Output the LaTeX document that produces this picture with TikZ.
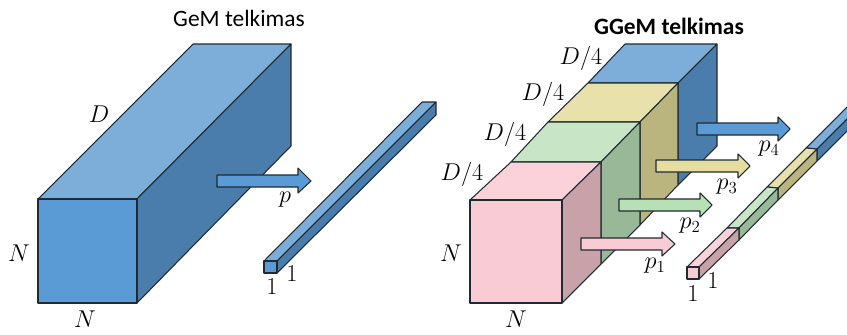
\documentclass[tikz,border=0pt]{standalone}
\usepackage{fontspec}
\setmainfont{Carlito}
\definecolor{bluefront}{HTML}{5B9BD5}
\definecolor{bluetop}{HTML}{7DAEDA}
\definecolor{blueside}{HTML}{4A7DAB}
\definecolor{pinkfront}{HTML}{F9CBD4}
\definecolor{pinktop}{HTML}{FBD2D9}
\definecolor{pinkside}{HTML}{C9A1A8}
\definecolor{greentop}{HTML}{C8E6C5}
\definecolor{greenside}{HTML}{98B898}
\definecolor{greenarrow}{HTML}{B7E1B5}
\definecolor{yellowtop}{HTML}{E8E1AC}
\definecolor{yellowside}{HTML}{BAB47F}
\definecolor{yellowarrow}{HTML}{E6DE9E}
\definecolor{edgeline}{HTML}{1F2A33}
\begin{document}
\begin{tikzpicture}[
  x=0.03cm, y=-0.03cm,
  face/.style={draw=edgeline, line width=0.9pt, line join=round},
  label/.style={inner sep=0pt, font=\fontsize{21}{24}\selectfont, text=black},
  title/.style={inner sep=0pt, font=\fontsize{20}{24}\selectfont, text=black}
]
  \clip (0,0) rectangle (847,334);

  % GeM block
  \draw[face, fill=bluetop] (38,199) -- (193,44) -- (291,44) -- (137,199) -- cycle;
  \draw[face, fill=blueside] (137,199) -- (291,44) -- (291,146) -- (137,303) -- cycle;
  \draw[face, fill=bluefront] (38,199) rectangle (137,303);

  % GeM bar
  \draw[face, fill=bluetop] (264,261) -- (422,102) -- (436,102) -- (277,261) -- cycle;
  \draw[face, fill=blueside] (277,261) -- (436,102) -- (436,115) -- (277,273) -- cycle;
  \draw[face, fill=bluefront] (264,261) rectangle (277,273);

  \draw[face, fill=bluefront] (217,175) -- ++(81,0) -- ++(0,-7) -- (311,181) -- (298,193) -- ++(0,-6) -- ++(-81,0) -- cycle;

  % GGeM block, back to front
  \draw[face, fill=bluetop] (588,83) -- (625,44) -- (717,44) -- (678,83) -- cycle;
  \draw[face, fill=blueside] (678,83) -- (717,44) -- (717,146) -- (678,185) -- cycle;
  \draw[face, fill=yellowtop] (548,122) -- (588,83) -- (678,83) -- (640,122) -- cycle;
  \draw[face, fill=yellowside] (640,122) -- (678,83) -- (678,185) -- (640,225) -- cycle;
  \draw[face, fill=greentop] (511,162) -- (548,122) -- (640,122) -- (601,162) -- cycle;
  \draw[face, fill=greenside] (601,162) -- (640,122) -- (640,225) -- (601,264) -- cycle;
  \draw[face, fill=pinktop] (470,200) -- (511,162) -- (601,162) -- (562,200) -- cycle;
  \draw[face, fill=pinkside] (562,200) -- (601,162) -- (601,264) -- (562,303) -- cycle;
  \draw[face, fill=pinkfront] (470,200) rectangle (562,303);

  % GGeM bar
  \draw[face, fill=bluetop] (806,148) -- (856,98) -- (868,98) -- (817,149) -- cycle;
  \draw[face, fill=blueside] (817,149) -- (868,98) -- (868,110) -- (817,161) -- cycle;
  \draw[face, fill=yellowtop] (767,187) -- (806,148) -- (817,149) -- (778,188) -- cycle;
  \draw[face, fill=yellowside] (778,188) -- (817,149) -- (817,161) -- (778,200) -- cycle;
  \draw[face, fill=greentop] (727,228) -- (767,187) -- (778,188) -- (739,228) -- cycle;
  \draw[face, fill=greenside] (739,228) -- (778,188) -- (778,200) -- (739,240) -- cycle;
  \draw[face, fill=pinktop] (687,267) -- (727,228) -- (739,228) -- (699,267) -- cycle;
  \draw[face, fill=pinkside] (699,267) -- (739,228) -- (739,240) -- (699,279) -- cycle;
  \draw[face, fill=pinkfront] (687,267) rectangle (699,279);

  % p arrows
  \draw[face, fill=bluefront] (697,123) -- ++(81,0) -- ++(0,-6) -- (790,129) -- (778,141) -- ++(0,-6) -- ++(-81,0) -- cycle;
  \draw[face, fill=yellowarrow] (656,160) -- ++(82,0) -- ++(0,-6) -- (750,166) -- (738,178) -- ++(0,-6) -- ++(-82,0) -- cycle;
  \draw[face, fill=greenarrow] (619,199) -- ++(81,0) -- ++(0,-6) -- (712,205) -- (700,217) -- ++(0,-6) -- ++(-81,0) -- cycle;
  \draw[face, fill=pinkfront] (581,238) -- ++(81,0) -- ++(0,-6) -- (675,244) -- (662,256) -- ++(0,-6) -- ++(-81,0) -- cycle;

  \node[title] (gemtitle) at (239,18) {GeM telkimas};
  \node[title, font=\fontsize{20}{24}\selectfont\bfseries] (ggemtitle) at (669,26) {GGeM telkimas};

  \node[label] (gemD) at (99,114) {$D$};
  \node[label] (gemNa) at (19,253) {$N$};
  \node[label] (gemNb) at (85,319) {$N$};
  \node[label] (gemp) at (285,200) {$p$};
  \node[label] (gemone) at (272,287) {$1$};
  \node[label] (gemtwo) at (292,274) {$1$};

  \node[label] (quarta) at (462,174) {$D/4$};
  \node[label] (quartb) at (505,134) {$D/4$};
  \node[label] (quartc) at (543,94) {$D/4$};
  \node[label] (quartd) at (581,58) {$D/4$};
  \node[label] (ggemNa) at (451,253) {$N$};
  \node[label] (ggemNb) at (516,319) {$N$};
  \node[label] (pa) at (655,266) {$p_1$};
  \node[label] (pb) at (690,226) {$p_2$};
  \node[label] (pc) at (727,187) {$p_3$};
  \node[label] (pd) at (769,149) {$p_4$};
  \node[label] (ggemone) at (693,294) {$1$};
  \node[label] (ggemtwo) at (713,281) {$1$};
\end{tikzpicture}
\end{document}
